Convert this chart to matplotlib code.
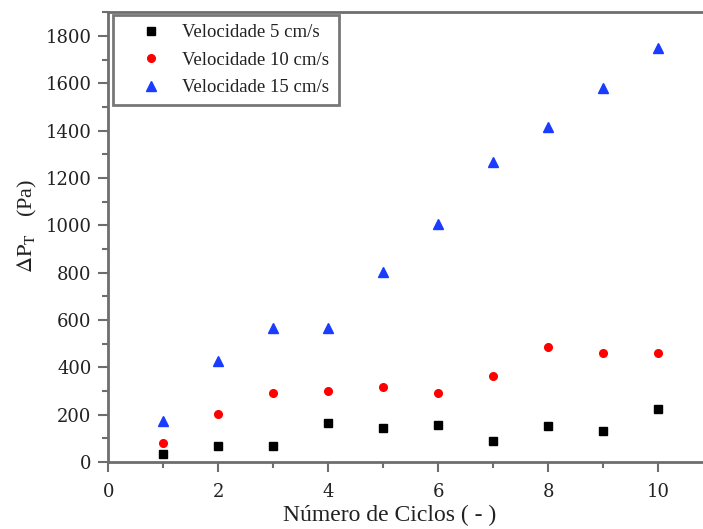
import matplotlib
matplotlib.use("Agg")
import matplotlib.pyplot as plt
from matplotlib.ticker import MultipleLocator

ciclos = [1, 2, 3, 4, 5, 6, 7, 8, 9, 10]
v5 = [34, 66, 66, 166, 144, 156, 89, 152, 130, 224]
v10 = [82, 204, 292, 299, 316, 290, 365, 487, 459, 459]
v15 = [172, 427, 568, 568, 802, 1005, 1269, 1415, 1582, 1750]
labels = ["Velocidade 5 cm/s", "Velocidade 10 cm/s", "Velocidade 15 cm/s"]

plt.rcParams['font.family'] = ['Liberation Serif', 'DejaVu Serif']
plt.rcParams['mathtext.fontset'] = 'stix'

fig = plt.figure(figsize=(7.03, 5.29), dpi=100)
ax = fig.add_axes([0.154, 0.1267, 0.846, 0.8497])

ax.plot(ciclos, v5, linestyle='none', marker='s', markersize=5.5, color='black', label=labels[0])
ax.plot(ciclos, v10, linestyle='none', marker='o', markersize=5.5, color='#ff0000', label=labels[1])
ax.plot(ciclos, v15, linestyle='none', marker='^', markersize=7, color='#1a3cff', label=labels[2])

ax.set_xlim(0, 10.81)
ax.set_ylim(0, 1900)
ax.xaxis.set_major_locator(MultipleLocator(2))
ax.xaxis.set_minor_locator(MultipleLocator(1))
ax.yaxis.set_major_locator(MultipleLocator(200))
ax.yaxis.set_minor_locator(MultipleLocator(100))

spc = '#6e6e6e'
for s in ['left', 'bottom', 'top']:
    ax.spines[s].set_color(spc)
    ax.spines[s].set_linewidth(2.0)
ax.spines['right'].set_visible(False)

ax.tick_params(which='major', direction='out', length=7, width=1.5, color=spc,
               labelsize=13, labelcolor='#222222', top=False, right=False)
ax.tick_params(which='minor', direction='out', length=4, width=1.5, color=spc,
               top=False, right=False)
ax.tick_params(axis='x', which='major', pad=8)
ax.tick_params(axis='y', which='major', pad=5)
for lab in ax.get_xticklabels() + ax.get_yticklabels():
    lab.set_fontfamily('DejaVu Serif')

ax.set_xlabel('Número de Ciclos ( - )', fontsize=17, color='#222222')
ax.xaxis.label.set_va('center')
ax.xaxis.set_label_coords(0.473, -0.118)
ax.set_ylabel(r'$\Delta\mathrm{P}_\mathrm{T}$   (Pa)', fontsize=16, color='#222222')
ax.yaxis.label.set_va('center')
ax.yaxis.set_label_coords(-0.135, 0.525)

leg = ax.legend(loc='upper left', bbox_to_anchor=(0.008, 0.995), fontsize=13.5,
                frameon=True, fancybox=False, borderpad=0.5, labelspacing=0.55,
                handlelength=3.1, handletextpad=0.1, borderaxespad=0.0)
leg.get_frame().set_edgecolor('#555555')
leg.get_frame().set_linewidth(2.0)
for t in leg.get_texts():
    t.set_color('#222222')

fig.savefig('out.png', dpi=100)
